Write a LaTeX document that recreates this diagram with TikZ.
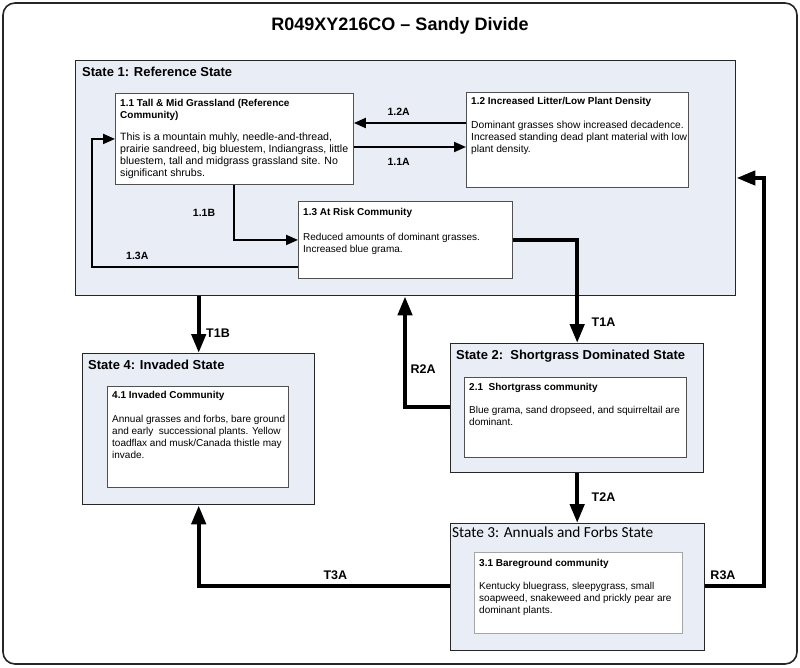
\documentclass[tikz,border=0pt]{standalone}
\usepackage{fontspec}
\setmainfont{Liberation Sans}
\newfontfamily\calfont{Carlito}
\usepackage{tikz}
\usetikzlibrary{arrows.meta,calc}
\definecolor{stfill}{HTML}{E9EDF6}
\definecolor{boxline}{HTML}{505050}

\begin{document}
\begin{tikzpicture}[x=1pt,y=-1pt,>={Triangle[length=12pt,width=10pt]},
  state/.style={draw=black!85,line width=1.4pt,fill=stfill,anchor=north west,inner sep=0pt},
  comm/.style={draw=boxline,line width=.9pt,fill=white,anchor=north west,inner sep=0pt},
  stitle/.style={anchor=north west,inner sep=0pt,font=\fontsize{13}{15}\selectfont\bfseries},
  ctext/.style={anchor=north west,inner sep=0pt,align=left,font=\fontsize{10}{12}\selectfont},
  ln/.style={->,line width=2pt},
  tk/.style={-{Triangle[length=19pt,width=14pt]},line width=4.4pt},
  lab/.style={font=\fontsize{10.5}{12}\selectfont\bfseries},
  tlab/.style={font=\fontsize{12.5}{14}\selectfont\bfseries}]
\useasboundingbox (0,0) rectangle (800,668);
\draw[rounded corners=12pt,line width=1.6pt,black!85] (3,3) rectangle (797,664);
\node (title) at (400,26) {\fontsize{18}{20}\selectfont\bfseries R049XY216CO – Sandy Divide};

% state 1
\node[state,minimum width=660pt,minimum height=235pt] (s1) at (75,60) {};
\node[stitle] (t1) at ($(s1.north west)+(7,7)$) {State 1: Reference State};
\node[comm,minimum width=238pt,minimum height=91pt] (c11) at (115,93) {};
\node[ctext] (x11) at ($(c11.north west)+(5,6)$) {\textbf{1.1 Tall \& Mid Grassland (Reference}\\\textbf{Community)}\\[10pt]
\fontsize{10.6}{12}\selectfont This is a mountain muhly, needle-and-thread,\\\fontsize{10.6}{12}\selectfont prairie sandreed, big bluestem, Indiangrass, little\\\fontsize{10.6}{12}\selectfont bluestem, tall and midgrass grassland site. No\\\fontsize{10.6}{12}\selectfont significant shrubs.};
\node[comm,minimum width=222pt,minimum height=95pt] (c12) at (466,92) {};
\node[ctext] (x12) at ($(c12.north west)+(5,5)$) {\textbf{1.2 Increased Litter/Low Plant Density}\\[12pt]
\fontsize{10.25}{12}\selectfont Dominant grasses show increased decadence.\\\fontsize{10.25}{12}\selectfont Increased standing dead plant material with low\\\fontsize{10.25}{12}\selectfont plant density.};
\node[comm,minimum width=214pt,minimum height=77pt] (c13) at (298,201) {};
\node[ctext] (x13) at ($(c13.north west)+(5,7)$) {\textbf{1.3 At Risk Community}\\[13pt]
Reduced amounts of dominant grasses.\\Increased blue grama.};

% state 2
\node[state,minimum width=253pt,minimum height=129pt] (s2) at (450,343) {};
\node[stitle] (t2) at ($(s2.north west)+(6,7)$) {State 2:\ \ Shortgrass Dominated State};
\node[comm,minimum width=222pt,minimum height=80pt] (c21) at (464,377) {};
\node[ctext] (x21) at ($(c21.north west)+(5,6)$) {\textbf{2.1\ \ Shortgrass community}\\[11pt]
Blue grama, sand dropseed, and squirreltail are\\dominant.};

% state 4
\node[state,minimum width=232pt,minimum height=151pt] (s4) at (82,353) {};
\node[stitle] (t4) at ($(s4.north west)+(6,7)$) {State 4: Invaded State};
\node[comm,minimum width=181pt,minimum height=101pt] (c41) at (107,386) {};
\node[ctext] (x41) at ($(c41.north west)+(5,5)$) {\textbf{4.1 Invaded Community}\\[12pt]
Annual grasses and forbs, bare ground\\and early\ \ successional plants. Yellow\\toadflax and musk/Canada thistle may\\invade.};

% state 3
\node[state,minimum width=254pt,minimum height=127pt] (s3) at (450,523) {};
\node[anchor=north west,inner sep=0pt,font=\calfont\fontsize{15.3}{17}\selectfont] (t3) at ($(s3.north west)+(2,4)$) {State 3: Annuals and Forbs State};
\node[comm,draw=black!35,minimum width=208pt,minimum height=81pt] (c31) at (474,552) {};
\node[ctext] (x31) at ($(c31.north west)+(5,7)$) {\textbf{3.1 Bareground community}\\[11pt]
Kentucky bluegrass, sleepygrass, small\\soapweed, snakeweed and prickly pear are\\dominant plants.};

% pathways
\draw[ln] (c12.west |- 0,123) -- (c11.east |- 0,123) node[pos=.6,above=3pt,lab] {1.2A};
\draw[ln] (c11.east |- 0,147) -- (c12.west |- 0,147) node[pos=.4,below=7pt,lab] {1.1A};
\draw[ln] (c11.south) |- (c13.west) node[pos=.25,left=15pt,lab] {1.1B};
\draw[ln] (c13.west |- 0,267) -| ([xshift=-23pt]c11.west) node[pos=.39,above=3pt,lab] {1.3A} -- (c11.west);

% transitions
\draw[tk] (c13.east) -| (s2.north) node[pos=.9,right=9pt,tlab] {T1A};
\draw[tk] (s2.west |- 0,407) -| (s1.south -| 405,0) node[pos=.67,right=0pt,tlab] {R2A};
\draw[tk] (s1.south -| s4.north) -- (s4.north) node[pos=.65,right=2pt,tlab] {T1B};
\draw[tk] (s2.south) -- (s2.south |- s3.north) node[pos=.47,right=9pt,tlab] {T2A};
\draw[tk] (s3.west |- 0,586) -| (s4.south) node[pos=.228,above=1pt,tlab] {T3A};
\draw[tk] (s3.east |- 0,586) -- (764,586) node[pos=.3,above=1pt,tlab] {R3A} |- (s1.east |- 0,178);
\end{tikzpicture}
\end{document}
